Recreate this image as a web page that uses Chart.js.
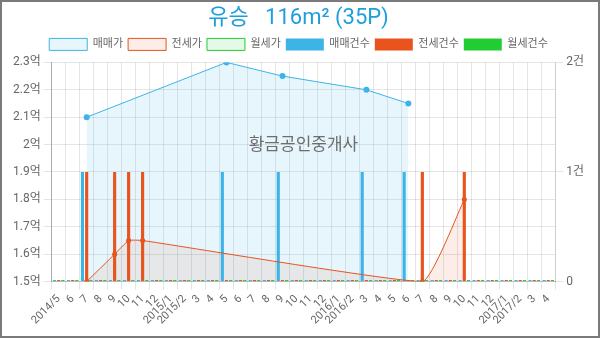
<!DOCTYPE html>
<html>
<head>
<meta charset="utf-8">
<script src="https://cdn.jsdelivr.net/npm/chart.js@4/dist/chart.umd.min.js"></script>
<style>
  html, body { margin: 0; padding: 0; background: #fff; }
  #frame { width: 600px; height: 338px; box-sizing: border-box; border: 2px solid #7a7a7a; background: #fff; }
  #wrap { position: relative; width: 596px; height: 334px; }
</style>
</head>
<body>
<div id="frame"><div id="wrap"><canvas id="c"></canvas></div></div>
<script>
// ---- data ----
const monthLabels = ['2014/5','6','7','8','9','10','11','12',
  '2015/1','2015/2','3','4','5','6','7','8','9','10','11','12',
  '2016/1','2016/2','3','4','5','6','7','8','9','10','11','12',
  '2017/1','2017/2','3','4'];
// 매매가 (억)
const salePrice = [null,null,2.1,null,null,null,null,null,
  null,null,null,null,2.3,null,null,null,2.25,null,null,null,
  null,null,2.2,null,null,2.15,null,null,null,null,null,null,
  null,null,null,null];
// 전세가 (억)
const jeonsePrice = [null,null,1.5,null,1.6,1.65,1.65,null,
  null,null,null,null,null,null,null,null,null,null,null,null,
  null,null,null,null,null,null,1.5,null,null,1.8,null,null,
  null,null,null,null];
// 월세가 (억)
const wolsePrice = new Array(36).fill(null);
// 매매건수
const saleCount = [0,0,1,0,0,0,0,0,
  0,0,0,0,1,0,0,0,1,0,0,0,
  0,0,1,0,0,1,0,0,0,0,0,0,
  0,0,0,0];
// 전세건수
const jeonseCount = [0,0,1,0,1,1,1,0,
  0,0,0,0,0,0,0,0,0,0,0,0,
  0,0,0,0,0,0,1,0,0,1,0,0,
  0,0,0,0];
// 월세건수
const wolseCount = [0,0,0,0,0,0,0,0,
  0,0,0,0,0,0,0,0,0,0,0,0,
  0,0,0,0,0,0,0,0,0,0,0,0,
  0,0,0,0];
const titleText = '유승   116m\u00B2 (35P)';
const watermark = '황금공인중개사';

const BLUE = '#3cb4e8', RED = '#e8531e', GREEN = '#22cc33';
const FONT = "Roboto, 'Noto Sans CJK KR', sans-serif";

const watermarkPlugin = {
  id: 'wm',
  afterDatasetsDraw(chart) {
    const { ctx, chartArea } = chart;
    ctx.save();
    ctx.font = "17px " + FONT;
    ctx.fillStyle = '#6e6e6e';
    ctx.textAlign = 'center';
    ctx.textBaseline = 'middle';
    ctx.fillText(watermark, (chartArea.left + chartArea.right) / 2, 144);
    ctx.restore();
  }
};

const legendSpace = {
  id: 'legendSpace',
  beforeInit(chart) {
    const orig = chart.legend.fit;
    chart.legend.fit = function () {
      orig.bind(chart.legend)();
      this.height += 2;
    };
  }
};

new Chart(document.getElementById('c'), {
  type: 'bar',
  data: {
    labels: monthLabels,
    datasets: [
      { type: 'line', label: '매매가', data: salePrice, yAxisID: 'y',
        borderColor: BLUE, backgroundColor: 'rgba(60,180,232,0.12)', borderWidth: 1,
        pointRadius: 3, pointBackgroundColor: BLUE, pointBorderWidth: 0,
        fill: 'start', spanGaps: true, tension: 0 },
      { type: 'line', label: '전세가', data: jeonsePrice, yAxisID: 'y',
        borderColor: RED, backgroundColor: 'rgba(232,83,30,0.10)', borderWidth: 1,
        pointRadius: 2.5, pointBackgroundColor: RED, pointBorderWidth: 0,
        fill: 'start', spanGaps: true, tension: 0.12 },
      { type: 'line', label: '월세가', data: wolsePrice, yAxisID: 'y',
        borderColor: GREEN, backgroundColor: 'rgba(34,204,51,0.12)', borderWidth: 1,
        pointRadius: 2.5, fill: 'start', spanGaps: true },
      { label: '매매건수', data: saleCount, yAxisID: 'y1', backgroundColor: BLUE,
        borderWidth: 0, minBarLength: 1.5, categoryPercentage: 0.9, barPercentage: 0.75 },
      { label: '전세건수', data: jeonseCount, yAxisID: 'y1', backgroundColor: RED,
        borderWidth: 0, minBarLength: 1.5, categoryPercentage: 0.9, barPercentage: 0.75 },
      { label: '월세건수', data: wolseCount, yAxisID: 'y1', backgroundColor: GREEN,
        borderWidth: 0, minBarLength: 1.5, categoryPercentage: 0.9, barPercentage: 0.75 }
    ]
  },
  options: {
    responsive: true,
    maintainAspectRatio: false,
    animation: false,
    layout: { padding: { left: 8, right: 11, top: 1, bottom: 6 } },
    plugins: {
      filler: { drawTime: 'beforeDatasetsDraw' },
      tooltip: { enabled: false },
      title: { display: true, text: titleText, color: '#1e9fdb',
        font: { family: FONT, size: 22, weight: 'normal' }, padding: { top: 2, bottom: 2 } },
      legend: { display: true,
        labels: { color: '#666', font: { family: FONT, size: 11 }, boxWidth: 38, boxHeight: 12, padding: 5 } }
    },
    scales: {
      x: {
        grid: { color: 'rgba(0,0,0,0.1)', offset: true },
        border: { color: '#bbb' },
        ticks: { color: '#666', font: { family: FONT, size: 11 }, autoSkip: false, maxRotation: 45, minRotation: 45 }
      },
      y: {
        position: 'left', min: 1.5, max: 2.3,
        grid: { color: 'rgba(0,0,0,0.1)' },
        border: { color: '#aaa' },
        ticks: { stepSize: 0.1, color: '#666', font: { family: FONT, size: 12 },
          callback: v => (Math.round(v * 10) / 10) + '억' }
      },
      y1: {
        position: 'right', min: 0, max: 2,
        grid: { drawOnChartArea: false, color: 'rgba(0,0,0,0.1)' },
        border: { color: 'rgba(0,0,0,0.1)' },
        ticks: { stepSize: 1, color: '#666', font: { family: FONT, size: 12 },
          callback: v => v === 0 ? '0' : v + '건' }
      }
    }
  },
  plugins: [watermarkPlugin, legendSpace]
});
</script>
</body>
</html>
